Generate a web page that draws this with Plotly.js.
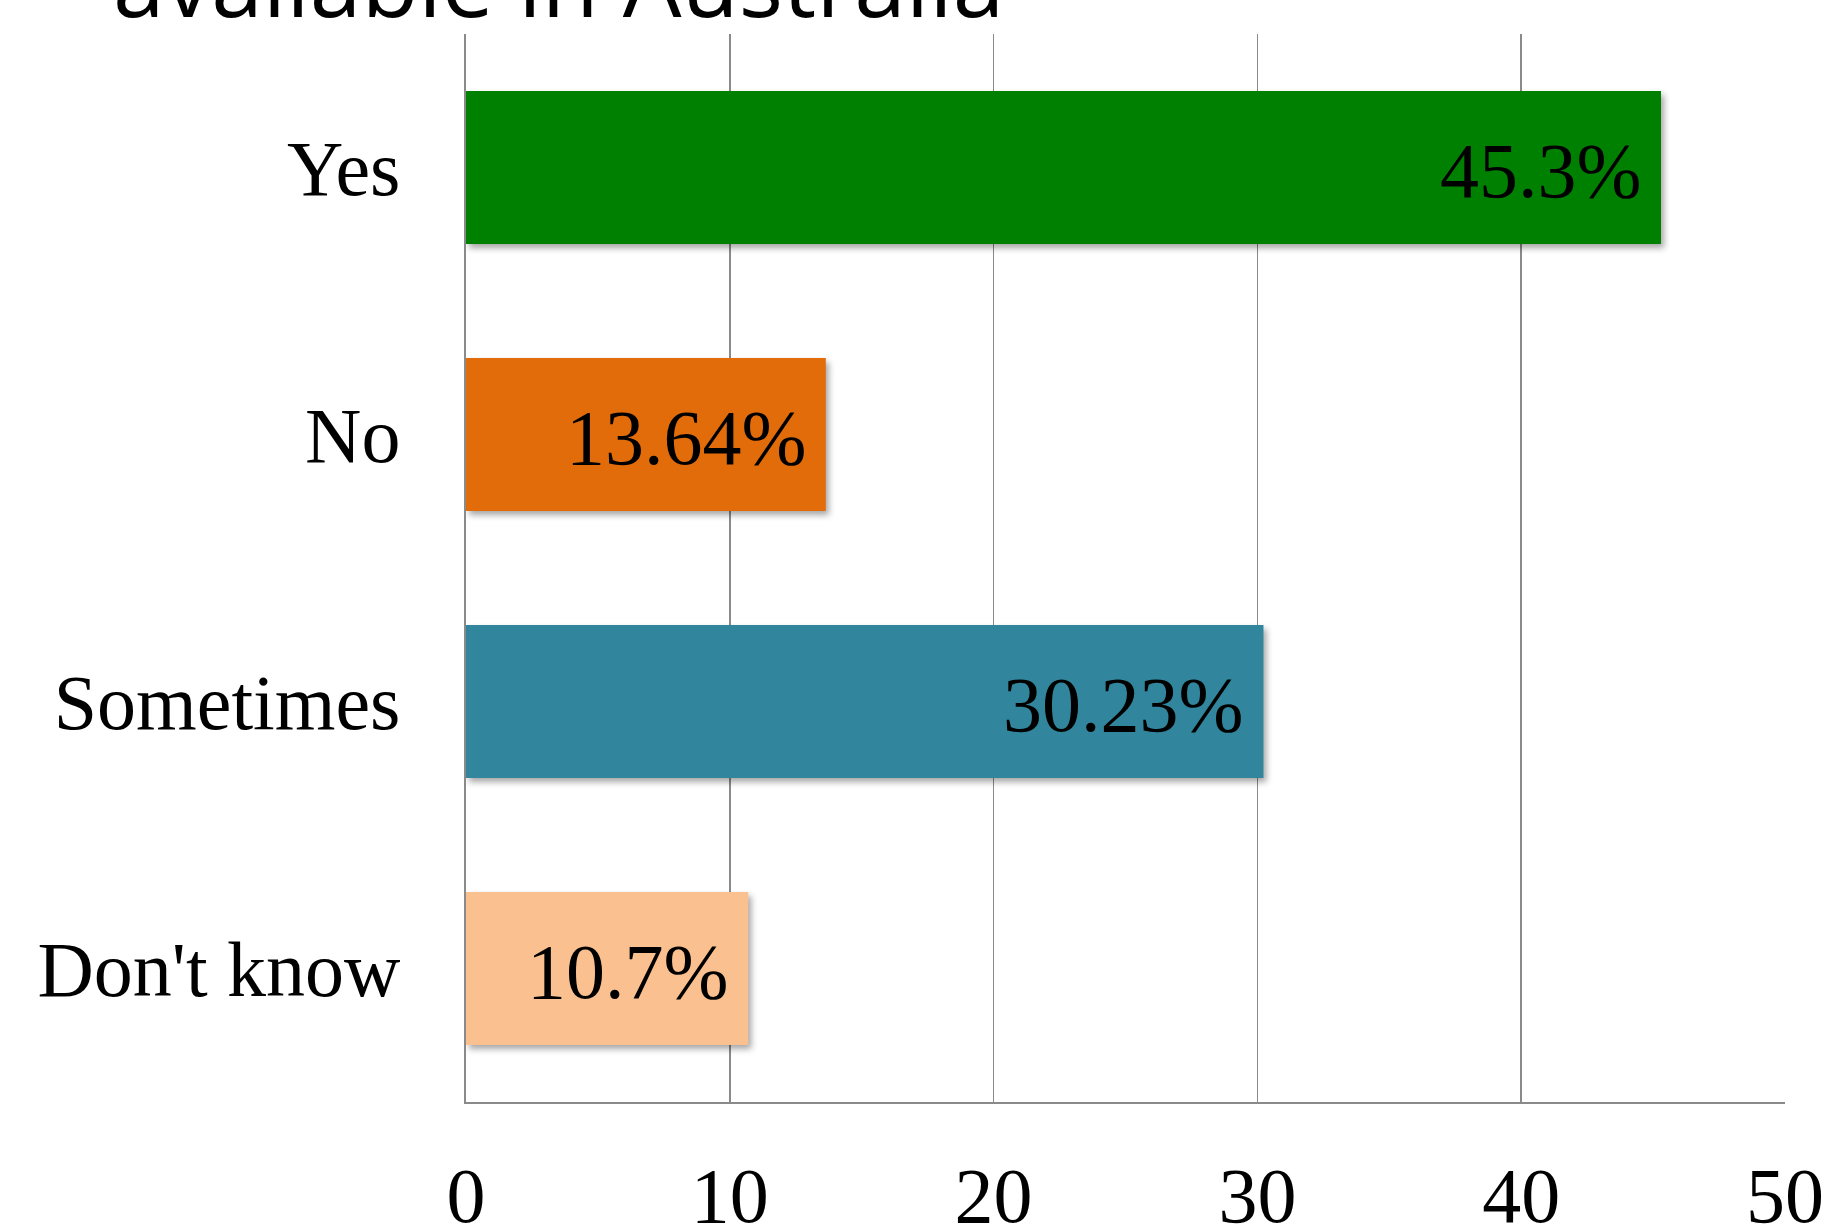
<!DOCTYPE html>
<html>
<head>
<meta charset="utf-8">
<script src="https://cdn.plot.ly/plotly-3.0.1.min.js"></script>
<style>
  html, body { margin: 0; padding: 0; background: #ffffff; }
  #chart { width: 1826px; height: 1225px; }
  .bars .point path { filter: drop-shadow(3px 4px 3px rgba(0,0,0,0.35)); }
</style>
</head>
<body>
<div id="chart"></div>
<script>
// ---- data ----
const categories = ["Yes", "No", "Sometimes", "Don't know"];
const values = [45.3, 13.64, 30.23, 10.7];
const valueLabels = ["45.3%", "13.64%", "30.23%", "10.7%"];
const barColors = ["#008000", "#E36C0A", "#31859C", "#FAC090"];
const xTicks = [0, 10, 20, 30, 40, 50];
const titleText = "available in Australia";

const serif = "'Liberation Serif', 'Times New Roman', serif";

const trace = {
  type: 'bar',
  orientation: 'h',
  x: values,
  y: categories,
  marker: { color: barColors, line: { width: 0 } },
  hoverinfo: 'x+y',
  showlegend: false
};

const annotations = values.map((v, i) => ({
  x: v,
  y: categories[i],
  xref: 'x',
  yref: 'y',
  text: valueLabels[i],
  showarrow: false,
  xanchor: 'right',
  yanchor: 'middle',
  xshift: -18,
  yshift: -3,
  font: { family: serif, size: 78, color: '#000000' }
}));

const layout = {
  width: 1826,
  height: 1225,
  paper_bgcolor: '#ffffff',
  plot_bgcolor: '#ffffff',
  margin: { l: 466, r: 41, t: 34, b: 123, pad: 0 },
  bargap: 0.427,
  title: {
    text: titleText,
    font: { family: "'Open Sans', sans-serif", size: 93, color: '#000000' },
    xref: 'container',
    yref: 'container',
    x: 113 / 1826,
    xanchor: 'left',
    y: 1 - 17 / 1225,
    yanchor: 'bottom',
    pad: { t: 0, b: 0, l: 0, r: 0 }
  },
  xaxis: {
    range: [0, 50],
    tickvals: xTicks,
    ticktext: xTicks.map(String),
    showgrid: true,
    gridcolor: '#8a8a8a',
    gridwidth: 1.5,
    zeroline: false,
    showline: true,
    linecolor: '#8a8a8a',
    linewidth: 2,
    ticks: '',
    ticklabelstandoff: 24,
    tickfont: { family: serif, size: 78, color: '#000000' },
    fixedrange: true
  },
  yaxis: {
    type: 'category',
    autorange: 'reversed',
    showgrid: false,
    zeroline: false,
    showline: true,
    linecolor: '#8a8a8a',
    linewidth: 2,
    ticks: '',
    ticklabelstandoff: 48,
    tickfont: { family: serif, size: 78, color: '#000000' },
    fixedrange: true
  },
  annotations: annotations
};

Plotly.newPlot('chart', [trace], layout, { displayModeBar: false, staticPlot: true });
</script>
</body>
</html>
